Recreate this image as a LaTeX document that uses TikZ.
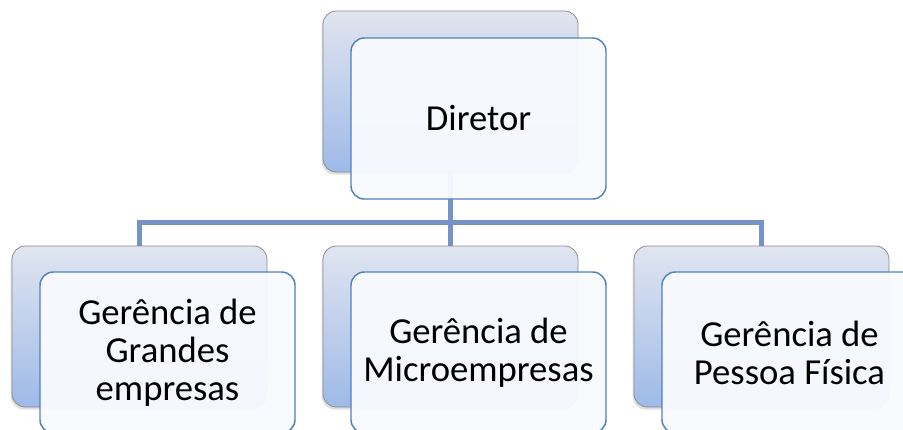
\documentclass[tikz,border=0pt]{standalone}
\usepackage{fontspec}
\setmainfont{Carlito}
\usetikzlibrary{shadows,% soft shadow under the back cards
backgrounds}%            puts the connectors behind the cards
\definecolor{linkblue}{RGB}{118,146,199}
\definecolor{cardline}{RGB}{79,129,189}
\definecolor{cardfill}{RGB}{248,250,254}
\definecolor{backtop}{RGB}{224,229,240}
\definecolor{backbot}{RGB}{158,186,232}
\tikzset{every node/.style={font=\fontsize{27.5}{28.5}\selectfont},
  backcard/.style={draw=black!45, line width=0.6pt, rounded corners=10pt,
    top color=backtop, bottom color=backbot, inner sep=0pt,
    minimum width=191.25pt, minimum height=120.75pt,
    drop shadow={opacity=0.25, shadow xshift=-1pt, shadow yshift=-2pt}},
  frontcard/.style={draw=cardline, line width=1.1pt, rounded corners=10pt,
    fill=cardfill, fill opacity=0.96, text opacity=1, inner sep=0pt,
    minimum width=191.25pt, minimum height=120.75pt, align=center},
  link/.style={draw=linkblue, line width=4pt, line join=miter}}

\begin{document}
\begin{tikzpicture}[x=0.75pt,y=-0.75pt]
\useasboundingbox (0,0) rectangle (903,429);
% top card
\node[backcard] (dirB) at (450.5,91.5) {};
\node[frontcard] (dir) at ([shift={(28,27)}]dirB) {Diretor};
% bottom row
\node[backcard] (grB) at (139.5,326.5) {};
\node[backcard] (miB) at (450.5,326.5) {};
\node[backcard] (pfB) at (761.5,326.5) {};
\node[frontcard] (gr) at ([shift={(28,26)}]grB) {Gerência de\\Grandes\\empresas};
\node[frontcard] (mi) at ([shift={(28,26)}]miB) {Gerência de\\Microempresas};
\node[frontcard] (pf) at ([shift={(28,26)}]pfB) {Gerência de\\Pessoa Física};
\coordinate (bus) at (450.5,222.5);
\begin{scope}[on background layer]
\draw[link] (dirB.south) -- (miB.north);
\draw[link] (grB.north) |- (bus -| pfB.north) -- (pfB.north);
\end{scope}
\end{tikzpicture}
\end{document}
